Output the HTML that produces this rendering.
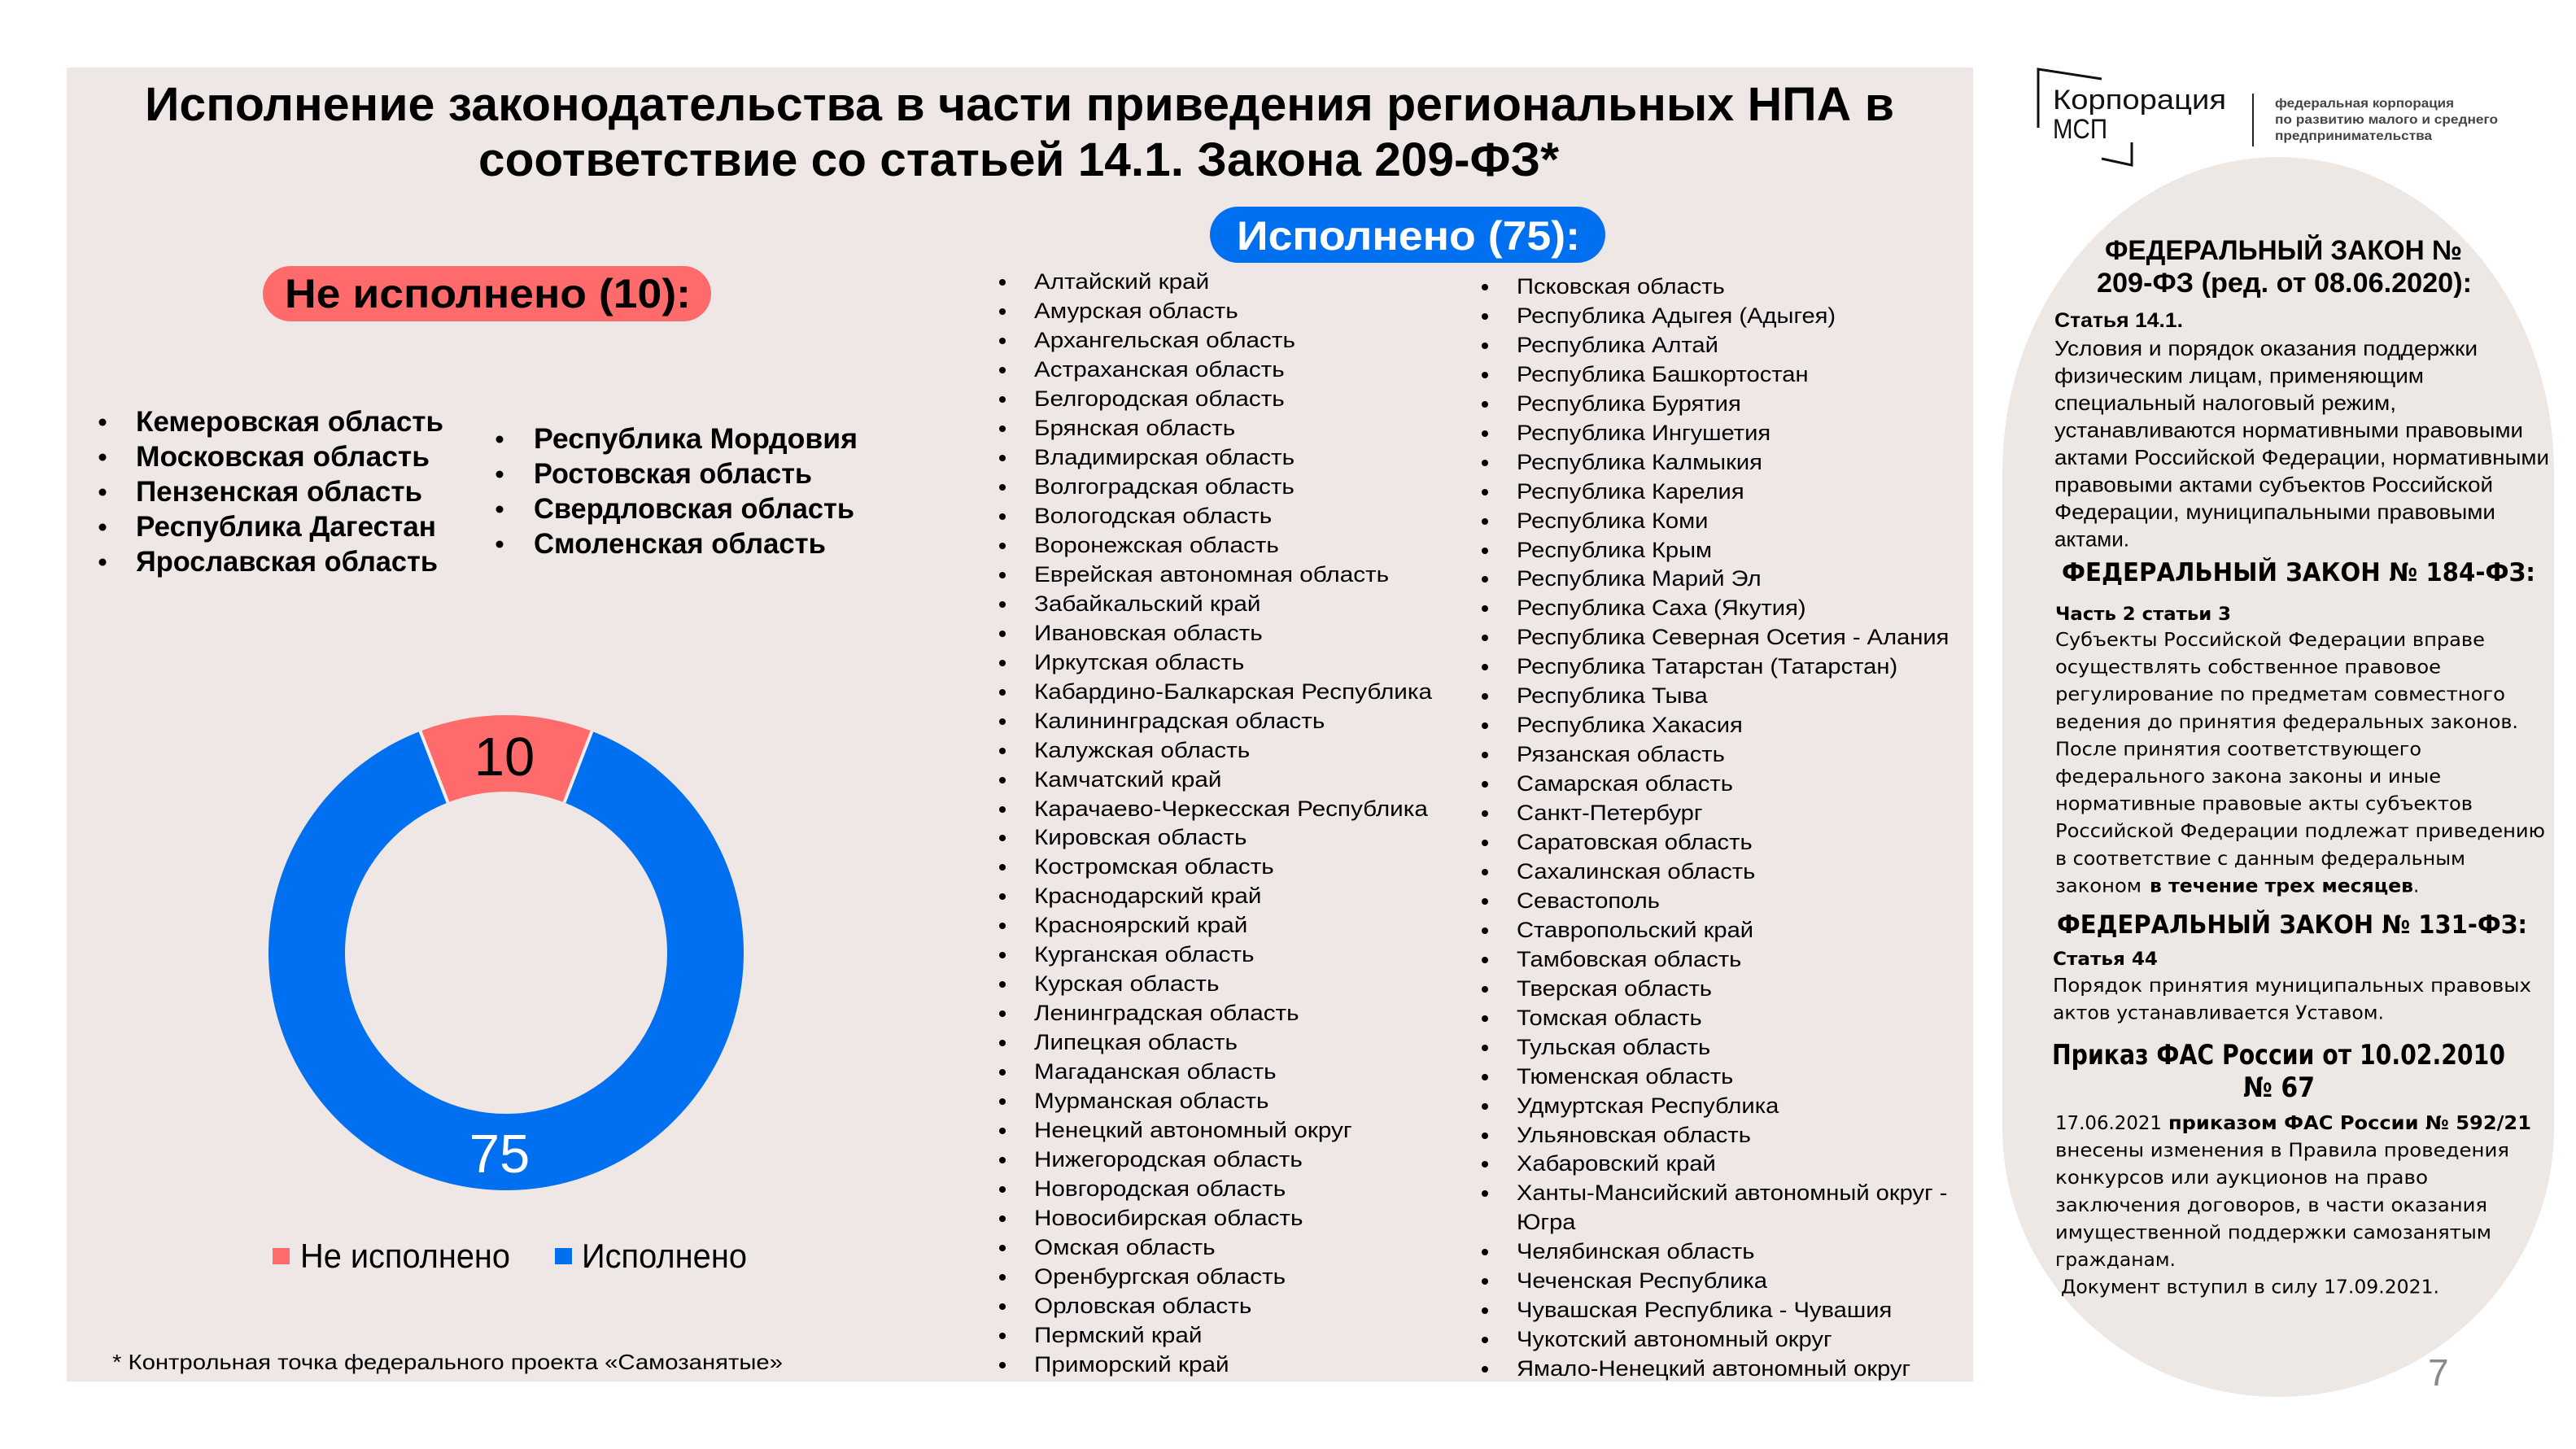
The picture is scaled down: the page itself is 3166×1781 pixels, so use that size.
<!DOCTYPE html>
<html><head><meta charset="utf-8"><style>
html,body{margin:0;padding:0;background:#fff;}
svg{display:block;}
text{font-family:"Liberation Sans","DejaVu Sans",sans-serif;}
.dv{font-family:"DejaVu Sans","Liberation Sans",sans-serif;}
</style></head><body>
<svg xmlns="http://www.w3.org/2000/svg" width="3166" height="1781" viewBox="0 0 3166 1781">
<rect x="0" y="0" width="3166" height="1781" fill="#ffffff"/>
<!-- main panel -->
<rect x="82" y="83" width="2343" height="1615" fill="#EFE7E5"/>
<!-- right arch -->
<path d="M2461,580 A339,387 0 0 1 3139,580 L3139,1387 A339,330 0 0 1 2461,1387 Z" fill="#EEE8E5"/>

<!-- Title -->
<text x="178" y="148" font-size="58" font-weight="bold" fill="#000" textLength="2150" lengthAdjust="spacingAndGlyphs">Исполнение законодательства в части приведения региональных НПА в</text>
<text x="588" y="216" font-size="58" font-weight="bold" fill="#000" textLength="1328" lengthAdjust="spacingAndGlyphs">соответствие со статьей 14.1. Закона 209-ФЗ*</text>

<!-- Red pill -->
<rect x="323" y="327" width="551" height="68" rx="34" ry="34" fill="#FF6B6B"/>
<text x="350" y="378" font-size="50" font-weight="bold" fill="#000" textLength="499" lengthAdjust="spacingAndGlyphs">Не исполнено (10):</text>

<!-- Blue pill -->
<rect x="1487" y="254" width="486" height="69" rx="34.5" ry="34.5" fill="#0070F0"/>
<text x="1520" y="307" font-size="50" font-weight="bold" fill="#fff" textLength="422" lengthAdjust="spacingAndGlyphs">Исполнено (75):</text>

<!-- Not executed list -->
<g fill="#000">
<circle cx="126" cy="519" r="4.5"/><circle cx="126" cy="562" r="4.5"/><circle cx="126" cy="605" r="4.5"/><circle cx="126" cy="648" r="4.5"/><circle cx="126" cy="691" r="4.5"/>
<circle cx="614" cy="540" r="4.5"/><circle cx="614" cy="583" r="4.5"/><circle cx="614" cy="626" r="4.5"/><circle cx="614" cy="669" r="4.5"/>
</g>
<g font-size="35" font-weight="bold" fill="#000">
<text x="167" y="530" textLength="378" lengthAdjust="spacingAndGlyphs">Кемеровская область</text>
<text x="167" y="573" textLength="361" lengthAdjust="spacingAndGlyphs">Московская область</text>
<text x="167" y="616" textLength="352" lengthAdjust="spacingAndGlyphs">Пензенская область</text>
<text x="167" y="659" textLength="369" lengthAdjust="spacingAndGlyphs">Республика Дагестан</text>
<text x="167" y="702" textLength="371" lengthAdjust="spacingAndGlyphs">Ярославская область</text>
<text x="656" y="551" textLength="398" lengthAdjust="spacingAndGlyphs">Республика Мордовия</text>
<text x="656" y="594" textLength="342" lengthAdjust="spacingAndGlyphs">Ростовская область</text>
<text x="656" y="637" textLength="394" lengthAdjust="spacingAndGlyphs">Свердловская область</text>
<text x="656" y="680" textLength="359" lengthAdjust="spacingAndGlyphs">Смоленская область</text>
</g>

<!-- Donut -->
<path d="M516.5,898.7 A292,292 0 0 1 727.5,898.7 L693.5,986.4 A198,198 0 0 0 550.5,986.4 Z" fill="#FF6B6B"/>
<path d="M727.5,898.7 A292,292 0 1 1 516.5,898.7 L550.5,986.4 A198,198 0 1 0 693.5,986.4 Z" fill="#0070F0"/>
<line x1="516.5" y1="898.7" x2="550.5" y2="986.4" stroke="#F3EDEB" stroke-width="4"/>
<line x1="727.5" y1="898.7" x2="693.5" y2="986.4" stroke="#F3EDEB" stroke-width="4"/>
<text x="620" y="953" font-size="67" fill="#000" text-anchor="middle">10</text>
<text x="614" y="1441" font-size="67" fill="#fff" text-anchor="middle">75</text>

<!-- Legend -->
<rect x="335" y="1534" width="21" height="20" fill="#FF6B6B"/>
<text x="369" y="1558" font-size="42" fill="#000" textLength="258" lengthAdjust="spacingAndGlyphs">Не исполнено</text>
<rect x="682" y="1534" width="21" height="20" fill="#0070F0"/>
<text x="715" y="1558" font-size="42" fill="#000" textLength="203" lengthAdjust="spacingAndGlyphs">Исполнено</text>

<!-- Footnote -->
<text x="138" y="1683" font-size="26" fill="#000" textLength="824" lengthAdjust="spacingAndGlyphs">* Контрольная точка федерального проекта «Самозанятые»</text>

<!-- Executed list column 1 -->
<g fill="#000">
<circle cx="1232" cy="347" r="4"/><circle cx="1232" cy="383" r="4"/><circle cx="1232" cy="419" r="4"/><circle cx="1232" cy="455" r="4"/><circle cx="1232" cy="491" r="4"/><circle cx="1232" cy="527" r="4"/><circle cx="1232" cy="563" r="4"/><circle cx="1232" cy="599" r="4"/><circle cx="1232" cy="635" r="4"/><circle cx="1232" cy="671" r="4"/><circle cx="1232" cy="707" r="4"/><circle cx="1232" cy="743" r="4"/><circle cx="1232" cy="779" r="4"/><circle cx="1232" cy="815" r="4"/><circle cx="1232" cy="851" r="4"/><circle cx="1232" cy="887" r="4"/><circle cx="1232" cy="923" r="4"/><circle cx="1232" cy="959" r="4"/><circle cx="1232" cy="995" r="4"/><circle cx="1232" cy="1030" r="4"/><circle cx="1232" cy="1066" r="4"/><circle cx="1232" cy="1102" r="4"/><circle cx="1232" cy="1138" r="4"/><circle cx="1232" cy="1174" r="4"/><circle cx="1232" cy="1210" r="4"/><circle cx="1232" cy="1246" r="4"/><circle cx="1232" cy="1282" r="4"/><circle cx="1232" cy="1318" r="4"/><circle cx="1232" cy="1354" r="4"/><circle cx="1232" cy="1390" r="4"/><circle cx="1232" cy="1426" r="4"/><circle cx="1232" cy="1462" r="4"/><circle cx="1232" cy="1498" r="4"/><circle cx="1232" cy="1534" r="4"/><circle cx="1232" cy="1570" r="4"/><circle cx="1232" cy="1606" r="4"/><circle cx="1232" cy="1642" r="4"/><circle cx="1232" cy="1678" r="4"/>
</g>
<g transform="translate(1271 0) scale(1.12 1)" font-size="26.5" fill="#000">
<text x="0" y="355">Алтайский край</text>
<text x="0" y="391">Амурская область</text>
<text x="0" y="427">Архангельская область</text>
<text x="0" y="463">Астраханская область</text>
<text x="0" y="499">Белгородская область</text>
<text x="0" y="535">Брянская область</text>
<text x="0" y="571">Владимирская область</text>
<text x="0" y="607">Волгоградская область</text>
<text x="0" y="643">Вологодская область</text>
<text x="0" y="679">Воронежская область</text>
<text x="0" y="715">Еврейская автономная область</text>
<text x="0" y="751">Забайкальский край</text>
<text x="0" y="787">Ивановская область</text>
<text x="0" y="823">Иркутская область</text>
<text x="0" y="859">Кабардино-Балкарская Республика</text>
<text x="0" y="895">Калининградская область</text>
<text x="0" y="931">Калужская область</text>
<text x="0" y="967">Камчатский край</text>
<text x="0" y="1003">Карачаево-Черкесская Республика</text>
<text x="0" y="1038">Кировская область</text>
<text x="0" y="1074">Костромская область</text>
<text x="0" y="1110">Краснодарский край</text>
<text x="0" y="1146">Красноярский край</text>
<text x="0" y="1182">Курганская область</text>
<text x="0" y="1218">Курская область</text>
<text x="0" y="1254">Ленинградская область</text>
<text x="0" y="1290">Липецкая область</text>
<text x="0" y="1326">Магаданская область</text>
<text x="0" y="1362">Мурманская область</text>
<text x="0" y="1398">Ненецкий автономный округ</text>
<text x="0" y="1434">Нижегородская область</text>
<text x="0" y="1470">Новгородская область</text>
<text x="0" y="1506">Новосибирская область</text>
<text x="0" y="1542">Омская область</text>
<text x="0" y="1578">Оренбургская область</text>
<text x="0" y="1614">Орловская область</text>
<text x="0" y="1650">Пермский край</text>
<text x="0" y="1686">Приморский край</text>
</g>

<!-- Executed list column 2 -->
<g fill="#000">
<circle cx="1825" cy="353" r="4"/><circle cx="1825" cy="389" r="4"/><circle cx="1825" cy="425" r="4"/><circle cx="1825" cy="461" r="4"/><circle cx="1825" cy="497" r="4"/><circle cx="1825" cy="533" r="4"/><circle cx="1825" cy="569" r="4"/><circle cx="1825" cy="605" r="4"/><circle cx="1825" cy="641" r="4"/><circle cx="1825" cy="677" r="4"/><circle cx="1825" cy="712" r="4"/><circle cx="1825" cy="748" r="4"/><circle cx="1825" cy="784" r="4"/><circle cx="1825" cy="820" r="4"/><circle cx="1825" cy="856" r="4"/><circle cx="1825" cy="892" r="4"/><circle cx="1825" cy="928" r="4"/><circle cx="1825" cy="964" r="4"/><circle cx="1825" cy="1000" r="4"/><circle cx="1825" cy="1036" r="4"/><circle cx="1825" cy="1072" r="4"/><circle cx="1825" cy="1108" r="4"/><circle cx="1825" cy="1144" r="4"/><circle cx="1825" cy="1180" r="4"/><circle cx="1825" cy="1216" r="4"/><circle cx="1825" cy="1252" r="4"/><circle cx="1825" cy="1288" r="4"/><circle cx="1825" cy="1324" r="4"/><circle cx="1825" cy="1360" r="4"/><circle cx="1825" cy="1396" r="4"/><circle cx="1825" cy="1431" r="4"/><circle cx="1825" cy="1467" r="4"/><circle cx="1825" cy="1539" r="4"/><circle cx="1825" cy="1575" r="4"/><circle cx="1825" cy="1611" r="4"/><circle cx="1825" cy="1647" r="4"/><circle cx="1825" cy="1683" r="4"/>
</g>
<g transform="translate(1864 0) scale(1.1 1)" font-size="26.5" fill="#000">
<text x="0" y="361">Псковская область</text>
<text x="0" y="397">Республика Адыгея (Адыгея)</text>
<text x="0" y="433">Республика Алтай</text>
<text x="0" y="469">Республика Башкортостан</text>
<text x="0" y="505">Республика Бурятия</text>
<text x="0" y="541">Республика Ингушетия</text>
<text x="0" y="577">Республика Калмыкия</text>
<text x="0" y="613">Республика Карелия</text>
<text x="0" y="649">Республика Коми</text>
<text x="0" y="685">Республика Крым</text>
<text x="0" y="720">Республика Марий Эл</text>
<text x="0" y="756">Республика Саха (Якутия)</text>
<text x="0" y="792">Республика Северная Осетия - Алания</text>
<text x="0" y="828">Республика Татарстан (Татарстан)</text>
<text x="0" y="864">Республика Тыва</text>
<text x="0" y="900">Республика Хакасия</text>
<text x="0" y="936">Рязанская область</text>
<text x="0" y="972">Самарская область</text>
<text x="0" y="1008">Санкт-Петербург</text>
<text x="0" y="1044">Саратовская область</text>
<text x="0" y="1080">Сахалинская область</text>
<text x="0" y="1116">Севастополь</text>
<text x="0" y="1152">Ставропольский край</text>
<text x="0" y="1188">Тамбовская область</text>
<text x="0" y="1224">Тверская область</text>
<text x="0" y="1260">Томская область</text>
<text x="0" y="1296">Тульская область</text>
<text x="0" y="1332">Тюменская область</text>
<text x="0" y="1368">Удмуртская Республика</text>
<text x="0" y="1404">Ульяновская область</text>
<text x="0" y="1439">Хабаровский край</text>
<text x="0" y="1475">Ханты-Мансийский автономный округ -</text>
<text x="0" y="1511">Югра</text>
<text x="0" y="1547">Челябинская область</text>
<text x="0" y="1583">Чеченская Республика</text>
<text x="0" y="1619">Чувашская Республика - Чувашия</text>
<text x="0" y="1655">Чукотский автономный округ</text>
<text x="0" y="1691">Ямало-Ненецкий автономный округ</text>
</g>

<!-- Logo -->
<g fill="none" stroke="#111" stroke-width="3">
<polyline points="2583,97 2505,85 2505,157"/>
<polyline points="2583,195 2620,203 2620,175"/>
</g>
<line x1="2769" y1="115" x2="2769" y2="180" stroke="#222" stroke-width="2"/>
<text x="2523" y="134" font-size="34" fill="#111" textLength="213" lengthAdjust="spacingAndGlyphs">Корпорация</text>
<text x="2523" y="170" font-size="34" fill="#111" textLength="67" lengthAdjust="spacingAndGlyphs">МСП</text>
<g font-size="16" font-weight="bold" fill="#444">
<text x="2796" y="132" textLength="220" lengthAdjust="spacingAndGlyphs">федеральная корпорация</text>
<text x="2796" y="152" textLength="274" lengthAdjust="spacingAndGlyphs">по развитию малого и среднего</text>
<text x="2796" y="172" textLength="193" lengthAdjust="spacingAndGlyphs">предпринимательства</text>
</g>

<!-- Right panel text -->
<g fill="#000">
<text x="2587" y="319" font-size="34" font-weight="bold" textLength="439" lengthAdjust="spacingAndGlyphs">ФЕДЕРАЛЬНЫЙ ЗАКОН №</text>
<text x="2577" y="359" font-size="34" font-weight="bold" textLength="461" lengthAdjust="spacingAndGlyphs">209-ФЗ (ред. от 08.06.2020):</text>
<text x="2525" y="402" font-size="25" font-weight="bold" textLength="158" lengthAdjust="spacingAndGlyphs">Статья 14.1.</text>
<g font-size="26">
<text x="2525" y="437" textLength="520" lengthAdjust="spacingAndGlyphs">Условия и порядок оказания поддержки</text>
<text x="2525" y="470.5" textLength="454" lengthAdjust="spacingAndGlyphs">физическим лицам, применяющим</text>
<text x="2525" y="504" textLength="420" lengthAdjust="spacingAndGlyphs">специальный налоговый режим,</text>
<text x="2525" y="537.5" textLength="576" lengthAdjust="spacingAndGlyphs">устанавливаются нормативными правовыми</text>
<text x="2525" y="571" textLength="608" lengthAdjust="spacingAndGlyphs">актами Российской Федерации, нормативными</text>
<text x="2525" y="604.5" textLength="539" lengthAdjust="spacingAndGlyphs">правовыми актами субъектов Российской</text>
<text x="2525" y="638" textLength="542" lengthAdjust="spacingAndGlyphs">Федерации, муниципальными правовыми</text>
<text x="2525" y="671.5" textLength="92" lengthAdjust="spacingAndGlyphs">актами.</text>
</g>

<text class="dv" x="2534" y="714" font-size="31" font-weight="bold" textLength="582" lengthAdjust="spacingAndGlyphs">ФЕДЕРАЛЬНЫЙ ЗАКОН № 184-ФЗ:</text>
<text class="dv" x="2526" y="762" font-size="22" font-weight="bold" textLength="216" lengthAdjust="spacingAndGlyphs">Часть 2 статьи 3</text>
<g class="dv" font-size="23">
<text class="dv" x="2526" y="794" textLength="528" lengthAdjust="spacingAndGlyphs">Субъекты Российской Федерации вправе</text>
<text class="dv" x="2526" y="827.6" textLength="474" lengthAdjust="spacingAndGlyphs">осуществлять собственное правовое</text>
<text class="dv" x="2526" y="861.2" textLength="553" lengthAdjust="spacingAndGlyphs">регулирование по предметам совместного</text>
<text class="dv" x="2526" y="894.8" textLength="569" lengthAdjust="spacingAndGlyphs">ведения до принятия федеральных законов.</text>
<text class="dv" x="2526" y="928.4" textLength="450" lengthAdjust="spacingAndGlyphs">После принятия соответствующего</text>
<text class="dv" x="2526" y="962" textLength="474" lengthAdjust="spacingAndGlyphs">федерального закона законы и иные</text>
<text class="dv" x="2526" y="995.6" textLength="513" lengthAdjust="spacingAndGlyphs">нормативные правовые акты субъектов</text>
<text class="dv" x="2526" y="1029.2" textLength="602" lengthAdjust="spacingAndGlyphs">Российской Федерации подлежат приведению</text>
<text class="dv" x="2526" y="1062.8" textLength="504" lengthAdjust="spacingAndGlyphs">в соответствие с данным федеральным</text>
<text class="dv" x="2526" y="1096.4" textLength="106" lengthAdjust="spacingAndGlyphs">законом</text>
<text class="dv" x="2642" y="1096.4" font-weight="bold" textLength="324" lengthAdjust="spacingAndGlyphs">в течение трех месяцев</text>
<text class="dv" x="2966" y="1096.4">.</text>
</g>

<text class="dv" x="2528" y="1147" font-size="31" font-weight="bold" textLength="578" lengthAdjust="spacingAndGlyphs">ФЕДЕРАЛЬНЫЙ ЗАКОН № 131-ФЗ:</text>
<text class="dv" x="2523" y="1186" font-size="22" font-weight="bold" textLength="129" lengthAdjust="spacingAndGlyphs">Статья 44</text>
<text class="dv" x="2523" y="1219" font-size="23" textLength="588" lengthAdjust="spacingAndGlyphs">Порядок принятия муниципальных правовых</text>
<text class="dv" x="2523" y="1252.5" font-size="23" textLength="407" lengthAdjust="spacingAndGlyphs">актов устанавливается Уставом.</text>

<text class="dv" x="2522" y="1308" font-size="34" font-weight="bold" textLength="557" lengthAdjust="spacingAndGlyphs">Приказ ФАС России от 10.02.2010</text>
<text class="dv" x="2757" y="1348" font-size="34" font-weight="bold" textLength="88" lengthAdjust="spacingAndGlyphs">№ 67</text>

<g class="dv" font-size="23">
<text class="dv" x="2526" y="1388" textLength="131" lengthAdjust="spacingAndGlyphs">17.06.2021</text>
<text class="dv" x="2665" y="1388" font-weight="bold" textLength="446" lengthAdjust="spacingAndGlyphs">приказом ФАС России № 592/21</text>
<text class="dv" x="2526" y="1421.6" textLength="558" lengthAdjust="spacingAndGlyphs">внесены изменения в Правила проведения</text>
<text class="dv" x="2526" y="1455.2" textLength="458" lengthAdjust="spacingAndGlyphs">конкурсов или аукционов на право</text>
<text class="dv" x="2526" y="1488.8" textLength="531" lengthAdjust="spacingAndGlyphs">заключения договоров, в части оказания</text>
<text class="dv" x="2526" y="1522.4" textLength="536" lengthAdjust="spacingAndGlyphs">имущественной поддержки самозанятым</text>
<text class="dv" x="2526" y="1556" textLength="148" lengthAdjust="spacingAndGlyphs">гражданам.</text>
<text class="dv" x="2533" y="1589.6" textLength="465" lengthAdjust="spacingAndGlyphs">Документ вступил в силу 17.09.2021.</text>
</g>
</g>

<!-- Page number -->
<text x="2984" y="1703" font-size="46" fill="#8a8a8a">7</text>
</svg>
</body></html>
